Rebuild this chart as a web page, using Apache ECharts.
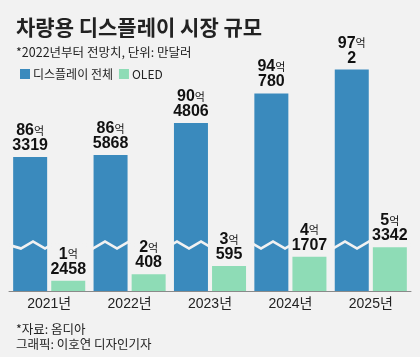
<!DOCTYPE html>
<html><head><meta charset="utf-8">
<script src="https://cdn.jsdelivr.net/npm/echarts@6/dist/echarts.min.js"></script>
<style>html,body{margin:0;padding:0;background:#f2f2f2}#c{width:420px;height:357px}</style>
</head><body><div id="c"></div>
<script>
const years = ['2021년', '2022년', '2023년', '2024년', '2025년'];
const totalValues = [863319, 865868, 904806, 940780, 970002];
const oledValues = [12458, 20408, 30595, 41707, 53342];
const seriesNames = ['디스플레이 전체', 'OLED'];

const BLUE = '#3a8abd';
const MINT = '#8edcb6';
const BG = '#f2f2f2';
const NUM_FONT = "'Liberation Sans Narrow','Arial Narrow','Liberation Sans','Noto Sans CJK KR',sans-serif";
const KR_FONT = "'Noto Sans CJK KR',sans-serif";

function fmt(p) {
  const v = p.value;
  const eok = Math.floor(v / 10000);
  const man = v % 10000;
  return '{a|' + eok + '}{u|억}\n{b|' + man + '}';
}
const labelRich = {
  a: { fontFamily: NUM_FONT, fontWeight: 'bold', fontSize: 16, color: '#111', lineHeight: 15 },
  u: { fontFamily: KR_FONT, fontSize: 11, color: '#111', lineHeight: 15 },
  b: { fontFamily: NUM_FONT, fontWeight: 'bold', fontSize: 16, color: '#111', lineHeight: 15 }
};

const chart = echarts.init(document.getElementById('c'), null, { renderer: 'canvas' });
chart.setOption({
  backgroundColor: BG,
  animation: false,
  title: [
    { text: '차량용 디스플레이 시장 규모', left: 11, top: 10,
      textStyle: { fontFamily: KR_FONT, fontWeight: 'bold', fontSize: 21, lineHeight: 24, color: '#222' } },
    { text: '*2022년부터 전망치, 단위: 만달러', left: 11, top: 40,
      textStyle: { fontFamily: KR_FONT, fontWeight: 'normal', fontSize: 12.5, lineHeight: 15, color: '#222' } },
    { text: '*자료: 옴디아', left: 11, top: 317,
      textStyle: { fontFamily: KR_FONT, fontWeight: 'normal', fontSize: 12.5, lineHeight: 15, color: '#222' } },
    { text: '그래픽: 이호연 디자인기자', left: 11, top: 332,
      textStyle: { fontFamily: KR_FONT, fontWeight: 'normal', fontSize: 12.5, lineHeight: 15, color: '#222' } }
  ],
  legend: {
    left: 15, top: 63, itemWidth: 10, itemHeight: 10, itemGap: 6, icon: 'rect',
    data: seriesNames,
    textStyle: { fontFamily: KR_FONT, fontSize: 12, color: '#222', padding: [0, 0, 0, -2] }
  },
  grid: { left: 9, right: 9, top: 45, bottom: 66, containLabel: false },
  xAxis: {
    type: 'category', data: years,
    axisLine: { show: true, lineStyle: { color: '#8a8a8a', width: 1 } },
    axisTick: { show: false },
    axisLabel: { margin: 6, fontFamily: "'Liberation Sans','Noto Sans CJK KR',sans-serif", fontSize: 14, color: '#222' }
  },
  yAxis: {
    type: 'value', min: 0, max: 1000000,
    axisLabel: { show: false }, splitLine: { show: false },
    axisLine: { show: false }, axisTick: { show: false },
    breaks: [{ start: 54000, end: 758000, gap: 4000 }],
    breakArea: {
      show: true,
      itemStyle: { color: BG, borderColor: BG, borderWidth: 0, opacity: 1 },
      zigzagAmplitude: 3.5, zigzagMinSpan: 12, zigzagMaxSpan: 12, zigzagZ: 100, expandOnClick: false
    },
    breakLabelLayout: { moveOverlap: false }
  },
  series: [
    { name: seriesNames[0], type: 'bar', data: totalValues, barWidth: 34, barGap: '12%',
      itemStyle: { color: BLUE },
      label: { show: true, position: 'top', distance: 4, formatter: fmt, rich: labelRich, align: 'center' } },
    { name: seriesNames[1], type: 'bar', data: oledValues, barWidth: 34, z: 200,
      itemStyle: { color: MINT },
      label: { show: true, position: 'top', distance: 4, formatter: fmt, rich: labelRich, align: 'center' } }
  ]
});
</script></body></html>
